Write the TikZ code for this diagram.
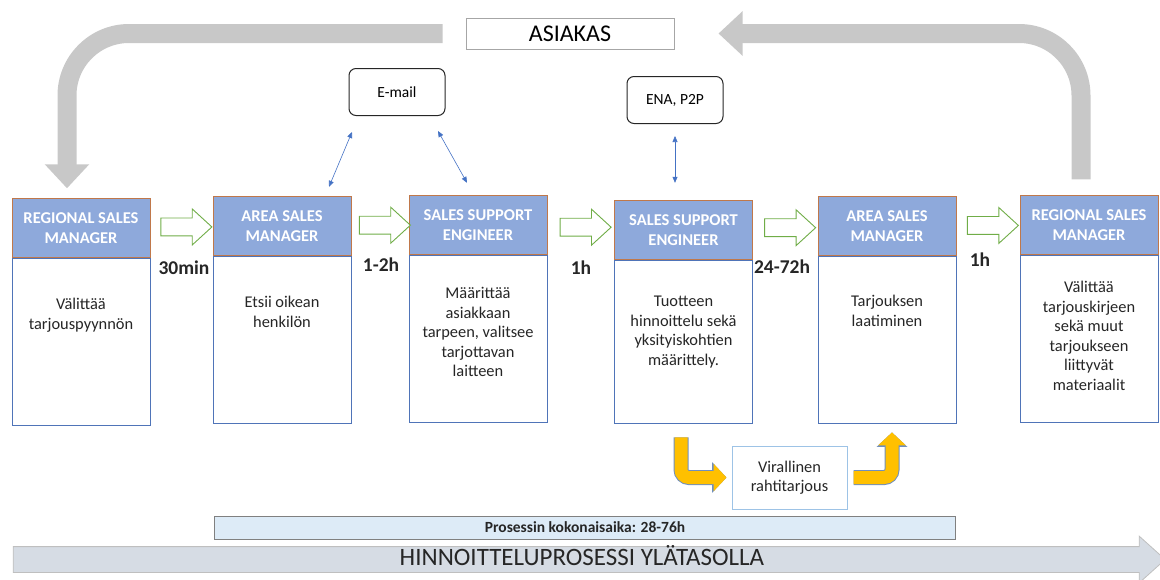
\documentclass[tikz,border=0pt]{standalone}
\usepackage{fontspec}
\setmainfont{Carlito}
\usepackage{tikz}
\usetikzlibrary{positioning, arrows.meta, shapes.arrows, calc}
\usepackage{xcolor}
\definecolor{hdrfill}{HTML}{8EA9DB}
\definecolor{hdredge}{HTML}{C0784A}
\definecolor{bodyedge}{HTML}{4F74B8}
\definecolor{stepgreen}{HTML}{70AD47}
\definecolor{linkblue}{HTML}{4472C4}
\definecolor{backgray}{HTML}{C8C8C8}
\definecolor{yfill}{HTML}{FFC000}
\definecolor{yedge}{HTML}{6F8FBF}
\definecolor{offeredge}{HTML}{9DC3E6}
\definecolor{barfill}{HTML}{DDEBF7}
\definecolor{flowfill}{HTML}{D6DCE4}
\definecolor{ink}{HTML}{262626}

\tikzset{
  hdr/.style={draw=hdredge, fill=hdrfill, line width=0.8pt, text=white,
    font=\bfseries\fontsize{16.5}{20}\selectfont, align=center,
    minimum width=138pt, minimum height=59pt, inner sep=2pt},
  bodybox/.style={draw=bodyedge, fill=white, line width=0.8pt,
    minimum width=138pt, minimum height=167pt},
  bodytxt/.style={font=\fontsize{16.4}{19.5}\selectfont, align=center, text=ink},
  stepper/.style={single arrow, draw=stepgreen, fill=white, line width=0.9pt,
    minimum height=51pt, inner xsep=0pt, inner ysep=8.5pt,
    single arrow head extend=9pt, single arrow tip angle=85},
  timelbl/.style={font=\bfseries\fontsize{19.5}{22}\selectfont, text=ink},
  srcbox/.style={draw=black!85, line width=1pt, rounded corners=7pt,
    minimum width=96pt, minimum height=47pt, font=\fontsize{15.5}{18}\selectfont},
  custbox/.style={draw=black!35, line width=1pt, minimum width=208pt,
    minimum height=31pt, font=\fontsize{24}{28}\selectfont},
  link/.style={draw=linkblue, line width=0.6pt,
    {Triangle[length=6pt,width=5pt]}-{Triangle[length=6pt,width=5pt]}},
  backarrow/.style={draw=backgray, line width=19pt, rounded corners=62pt,
    -{Triangle[length=24pt,width=43pt]}},
  yarrow/.style={draw=yfill, line width=13pt, rounded corners=8pt,
    -{Triangle[length=13pt,width=27pt]},
    preaction={draw=yedge, line width=15pt, -{Triangle[length=14.5pt,width=30pt]}}},
}

\begin{document}
\begin{tikzpicture}[x=1pt, y=-1pt]
\useasboundingbox (0,0) rectangle (1160,579);

% customer and information sources
\node[custbox] (ask) at (570,33.5) {ASIAKAS};
\node[srcbox] (mail) at (397,92) {E-mail};
\node[srcbox] (ena) at (675,100) {ENA, P2P};

% process steps
\node[bodybox] (b1) at (81,342) {};
\node[hdr, above=0pt of b1] (h1) {REGIONAL SALES\\MANAGER};
\node[bodytxt] (t1) at (81,315) {Välittää\\tarjouspyynnön};

\node[bodybox] (b2) at (282,339.5) {};
\node[hdr, above=0pt of b2] (h2) {AREA SALES\\MANAGER};
\node[bodytxt] (t2) at (282,312) {Etsii oikean\\henkilön};

\node[bodybox] (b3) at (478,338.5) {};
\node[hdr, above=0pt of b3] (h3) {SALES SUPPORT\\ENGINEER};
\node[bodytxt] (t3) at (478,332) {Määrittää\\asiakkaan\\tarpeen, valitsee\\tarjottavan\\laitteen};

\node[bodybox, minimum height=163pt] (b4) at (683.5,341.5) {};
\node[hdr, above=0pt of b4] (h4) {SALES SUPPORT\\ENGINEER};
\node[bodytxt] (t4) at (683.5,332) {Tuotteen\\hinnoittelu sekä\\yksityiskohtien\\määrittely.};

\node[bodybox] (b5) at (887,339.5) {};
\node[hdr, above=0pt of b5] (h5) {AREA SALES\\MANAGER};
\node[bodytxt] (t5) at (887,311) {Tarjouksen\\laatiminen};

\node[bodybox] (b6) at (1089,339) {};
\node[hdr, above=0pt of b6] (h6) {REGIONAL SALES\\MANAGER};
\node[bodytxt] (t6) at (1089,336) {Välittää\\tarjouskirjeen\\sekä muut\\tarjoukseen\\liittyvät\\materiaalit};

% hand-overs
\node[stepper] (ga1) at ($(h1.east)!0.5!(h2.west)$) {};
\node[stepper] (ga2) at ($(h2.east)!0.5!(h3.west)$) {};
\node[stepper] (ga3) at ($(h3.east)!0.5!(h4.west)$) {};
\node[stepper] (ga4) at ($(h4.east)!0.5!(h5.west)$) {};
\node[stepper] (ga5) at ($(h5.east)!0.5!(h6.west)$) {};

\node[timelbl] (tm1) at (184,268) {30min};
\node[timelbl] (tm2) at (381,265) {1-2h};
\node[timelbl] (tm3) at (581,268) {1h};
\node[timelbl] (tm4) at (782,267) {24-72h};
\node[timelbl] (tm5) at (980,260) {1h};

% freight offer
\node[draw=offeredge, line width=1pt, minimum width=115pt, minimum height=63pt,
  bodytxt] (vr) at (789.5,477.5) {Virallinen\\rahtitarjous};
\draw[yarrow] ([xshift=-2.5pt,yshift=-14pt]b4.south) |- ([xshift=-5pt]vr.west);
\draw[yarrow] ([xshift=6pt]vr.east) -| ([xshift=5pt,yshift=-9pt]b5.south);

% totals
\node[draw=black!50, fill=barfill, line width=1pt, minimum width=741pt,
  minimum height=23pt, font=\bfseries\fontsize{15.5}{17}\selectfont, text=ink]
  (total) at (585,527.5) {Prosessin kokonaisaika: 28-76h};
\node[single arrow, draw=black!25, fill=flowfill, line width=0.8pt,
  minimum height=1152pt, text height=15pt, text depth=4pt, inner ysep=3pt,
  inner xsep=0pt, single arrow head extend=10.5pt, single arrow tip angle=84,
  font=\fontsize{25}{27}\selectfont, text=ink]
  (flow) at (582,559.5) {HINNOITTELUPROSESSI YLÄTASOLLA};

% customer loop
\draw[backarrow] ([xshift=-8pt,yshift=16pt]h6.north) |- ([xshift=44pt]ask.east);
\draw[backarrow] ([xshift=-23pt]ask.west) -| ([xshift=-14pt,yshift=10pt]h1.north);

% information links
\draw[link] ([xshift=-45pt,yshift=-16pt]mail.south) -- ([xshift=47pt,yshift=9pt]h2.north);
\draw[link] ([xshift=41pt,yshift=-15pt]mail.south) -- ([xshift=-11pt,yshift=12pt]h3.north);
\draw[link] ([yshift=-12pt]ena.south) -- ([xshift=-8.5pt,yshift=17pt]h4.north);
\end{tikzpicture}
\end{document}
